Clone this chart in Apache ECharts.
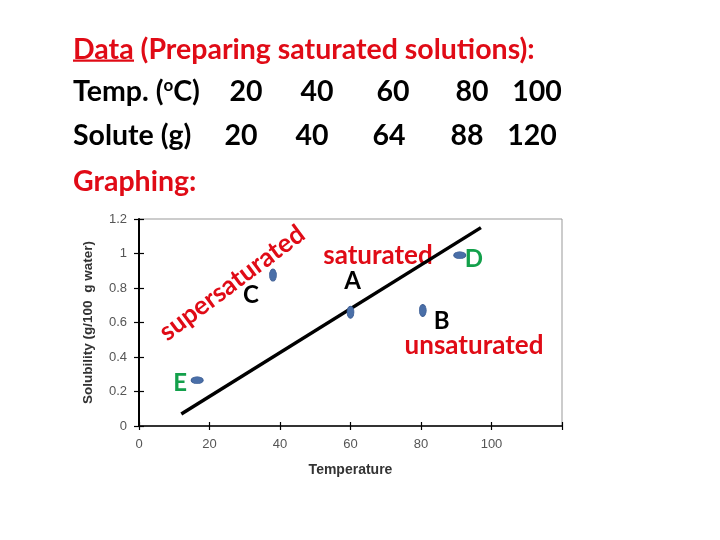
<!DOCTYPE html>
<html><head><meta charset="utf-8">
<script src="https://cdn.jsdelivr.net/npm/echarts@6/dist/echarts.min.js"></script>
<style>html,body{margin:0;padding:0;background:#fff}#c{width:720px;height:540px}</style>
</head><body><div id="c"></div>
<script>
// ---- data ----
const tempC = [20, 40, 60, 80, 100];
const soluteG = [20, 40, 64, 88, 120];
const pointNames = ['A', 'B', 'C', 'D', 'E'];
const pointTemp = [60, 80.5, 38, 91, 16.5];
const pointSol = [0.66, 0.67, 0.875, 0.99, 0.265];
const lineTemp = [12, 97];
const lineSol = [0.07, 1.15];
const xTickLabels = ['0', '20', '40', '60', '80', '100', ''];
const yTickLabels = ['0', '0.2', '0.4', '0.6', '0.8', '1', '1.2'];

// ---- style / layout ----
const RED = '#e00b16', GREEN = '#13a04b', BLUE = '#4a6fa8';
const FONT = 'Lato, "Open Sans", sans-serif';
const AX = '"Liberation Sans", Arial, sans-serif';
const TOPFONT = 'bold 28.5px ' + FONT;
const labelStyle = {
  A: {off: [2, -31], color: '#000'},
  B: {off: [19, 11], color: '#000'},
  C: {off: [-22, 20], color: '#000'},
  D: {off: [14, 4], color: GREEN},
  E: {off: [-17, 3], color: GREEN}
};
const colX1 = [246, 317, 393, 472, 537];
const colX2 = [241, 312, 389, 467, 532];

const chart = echarts.init(document.getElementById('c'));

const mid = (x, y, text, fill, extra) => Object.assign({type: 'text', x: x, y: y,
  style: Object.assign({text: text, font: TOPFONT, fill: fill, verticalAlign: 'middle'}, extra || {})});

const graphics = [
  mid(73, 50, 'Data (Preparing saturated solutions):', RED),
  {type: 'rect', shape: {x: 73, y: 59.5, width: 61, height: 2.2}, style: {fill: RED}},
  mid(73, 92, 'Temp. ({s|o}C)', '#000', {
    rich: {s: {fontSize: 17, fontWeight: 'bold', fontFamily: FONT, verticalAlign: 'top', padding: [0, 0, 13, 0]}}}),
  mid(73, 136, 'Solute (g)', '#000'),
  mid(73, 181.5, 'Graphing:', RED),
  {type: 'text', x: 232, y: 283, rotation: 0.64, style: {text: 'supersaturated', font: 'bold 26px ' + FONT, fill: RED, align: 'center', verticalAlign: 'middle'}},
  {type: 'text', x: 378, y: 256, style: {text: 'saturated', font: 'bold 26px ' + FONT, fill: RED, align: 'center', verticalAlign: 'middle'}},
  {type: 'text', x: 474, y: 346, style: {text: 'unsaturated', font: 'bold 26px ' + FONT, fill: RED, align: 'center', verticalAlign: 'middle'}}
];
tempC.forEach((t, i) => graphics.push(mid(colX1[i], 92, String(t), '#000', {align: 'center'})));
soluteG.forEach((s, i) => graphics.push(mid(colX2[i], 136, String(s), '#000', {align: 'center'})));

const pts = pointNames.map((n, i) => ({
  name: n, value: [pointTemp[i], pointSol[i]],
  label: {show: true, formatter: n, position: 'inside', offset: labelStyle[n].off,
    color: labelStyle[n].color, fontSize: 24, fontWeight: 'bold', fontFamily: FONT}
}));

const xBase = {type: 'value', min: 0, max: 120, interval: 20, splitLine: {show: false}};
const yBase = {type: 'value', min: 0, max: 1.2, interval: 0.2, splitLine: {show: false}};

chart.setOption({
  backgroundColor: '#fff',
  animation: false,
  graphic: graphics,
  grid: {left: 139, top: 219, right: 158, bottom: 114, show: true, borderColor: '#999', borderWidth: 1},
  xAxis: [
    Object.assign({}, xBase, {
      name: 'Temperature', nameLocation: 'middle', nameGap: 37,
      nameTextStyle: {fontFamily: AX, fontSize: 14, fontWeight: 'bold', color: '#333'},
      axisLine: {lineStyle: {color: '#000', width: 1.5}},
      axisTick: {length: 4, lineStyle: {color: '#000', width: 1.2}},
      axisLabel: {margin: 12, fontFamily: AX, fontSize: 13, color: '#555',
        formatter: v => xTickLabels[Math.round(v / 20)]}
    }),
    Object.assign({}, xBase, {position: 'bottom', axisLine: {show: false},
      axisTick: {inside: true, length: 4, lineStyle: {color: '#000', width: 1.2}}, axisLabel: {show: false}})
  ],
  yAxis: [
    Object.assign({}, yBase, {
      name: 'Solubility (g/100  g water)', nameLocation: 'middle', nameGap: 44,
      nameTextStyle: {fontFamily: AX, fontSize: 13.5, fontWeight: 'bold', color: '#333'},
      axisLine: {lineStyle: {color: '#000', width: 2}},
      axisTick: {length: 5, lineStyle: {color: '#000', width: 1.2}},
      axisLabel: {margin: 12, fontFamily: AX, fontSize: 13, color: '#555',
        formatter: v => yTickLabels[Math.round(v / 0.2)]}
    }),
    Object.assign({}, yBase, {position: 'left', axisLine: {show: false},
      axisTick: {inside: true, length: 5, lineStyle: {color: '#000', width: 1.2}}, axisLabel: {show: false}})
  ],
  series: [
    {type: 'line', data: lineTemp.map((t, i) => [t, lineSol[i]]), showSymbol: false, symbol: 'none',
      lineStyle: {color: '#000', width: 3.5}, z: 3},
    {type: 'scatter', data: pts, z: 4,
      symbolSize: (v, p) => (p.name === 'D' || p.name === 'E') ? [12, 7] : [7, 12],
      itemStyle: {color: BLUE, borderColor: '#3b5d94', borderWidth: 0.8, opacity: 1}}
  ]
});
</script></body></html>
